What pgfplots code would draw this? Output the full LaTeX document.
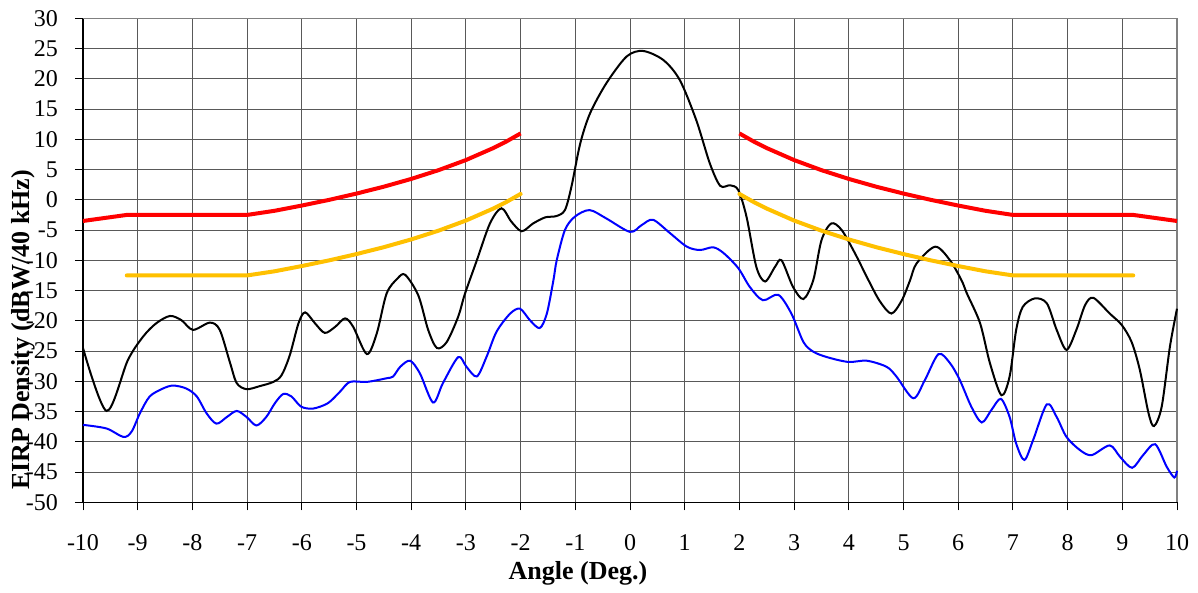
\documentclass[border=0pt]{standalone}
\usepackage{fontspec}
\setmainfont{Liberation Serif}
\usepackage{pgfplots}
\pgfplotsset{compat=1.18}
\definecolor{excelgold}{HTML}{FFC000}
\begin{document}
\begin{tikzpicture}
\path[use as bounding box] (-41.5pt,-45.35pt) rectangle (557.5pt,251.15pt);
\begin{axis}[
  at={(0,0)}, anchor=south west,
  scale only axis, width=547pt, height=242pt,
  xmin=-10, xmax=10, ymin=-50, ymax=30,
  xtick={-10,-9,...,10}, ytick={-50,-45,...,30},
  grid=major, major grid style={black!65, line width=0.5pt},
  axis x line*=bottom, axis y line*=left,
  axis line style={black, line width=0.6pt, -},
  tick align=outside, major tick length=4pt,
  tick style={black, line width=0.5pt},
  /pgf/number format/assume math mode=true,
  ticklabel style={font=\fontsize{12}{12}\selectfont},
  xticklabel style={anchor=base, yshift=-20pt},
  yticklabel style={anchor=east, xshift=-5pt},
  xlabel={\textbf{Angle (Deg.)}},
  ylabel={\textbf{EIRP Density (dBW/40 kHz)}},
  label style={font=\fontsize{13}{13}\selectfont},
  xlabel style={at={(axis description cs:0.4525,-0.1605)}, anchor=base},
  ylabel style={at={(axis description cs:-0.0545,0.356)}, anchor=center},
  clip=false,
]
\draw[gray, line width=0.75pt] (rel axis cs:0,1) -- (rel axis cs:1,1) -- (rel axis cs:1,0);
% measured pattern
\addplot[black, line width=1pt, smooth, tension=0.5] coordinates {
(-10,-24.5) (-9.57,-34.9) (-9.18,-26.5) (-8.90,-22.6) (-8.66,-20.4)
(-8.41,-19.2) (-8.20,-19.9) (-7.99,-21.5) (-7.68,-20.3) (-7.50,-21.5) (-7.31,-27.0)
(-7.19,-30.3) (-7.01,-31.3) (-6.77,-30.8) (-6.52,-30.1) (-6.37,-29.0) (-6.22,-25.7)
(-6.06,-20.4) (-5.94,-18.6) (-5.76,-20.4) (-5.58,-22.0) (-5.39,-21.0) (-5.21,-19.6)
(-5.06,-21.0) (-4.81,-25.5) (-4.63,-22.1) (-4.45,-15.5) (-4.25,-13.0) (-4.11,-12.4)
(-3.87,-15.8) (-3.69,-21.5) (-3.53,-24.5) (-3.35,-23.5) (-3.14,-19.3)
(-3.02,-15.6) (-2.80,-10.0) (-2.56,-3.9) (-2.35,-1.4) (-2.17,-3.6) (-1.98,-5.2)
(-1.77,-3.9) (-1.55,-2.9) (-1.35,-2.7) (-1.19,-1.7) (-1.07,2.2) (-0.91,9.3)
(-0.73,14.3) (-0.43,19.3) (-0.06,23.7) (0.24,24.6) (0.61,23.1) (0.91,19.8)
(1.21,13.2) (1.46,6.0) (1.65,2.3) (1.83,2.4) (1.98,1.6) (2.13,-2.8) (2.31,-11.1)
(2.47,-13.5) (2.65,-11.1) (2.77,-10.0) (2.98,-14.4) (3.17,-16.4) (3.35,-13.3)
(3.50,-6.7) (3.68,-3.9) (3.87,-5.0) (4.11,-8.8) (4.36,-13.3) (4.57,-16.8)
(4.78,-18.8) (4.97,-16.6) (5.12,-13.3) (5.24,-10.5) (5.58,-7.75) (5.85,-10.0)
(6.06,-13.3) (6.16,-15.5) (6.40,-20.4) (6.58,-27.0) (6.79,-32.3) (6.94,-29.2)
(7.06,-21.5) (7.18,-17.7) (7.40,-16.3) (7.62,-17.1) (7.80,-21.5) (7.98,-24.8)
(8.16,-21.5) (8.32,-17.4) (8.47,-16.2) (8.77,-18.8) (8.99,-20.7) (9.17,-23.5)
(9.32,-28.1) (9.48,-35.3) (9.58,-37.4) (9.72,-34.2) (9.87,-24.3) (10.0,-18.0)
};
\addplot[blue, line width=1pt, smooth, tension=0.5] coordinates {
(-10,-37.2) (-9.57,-37.8) (-9.26,-39.2) (-9.11,-38.3) (-8.96,-35.3) (-8.78,-32.5)
(-8.54,-31.2) (-8.35,-30.7) (-8.11,-31.2) (-7.92,-32.5) (-7.74,-35.3) (-7.56,-37.0)
(-7.37,-35.9) (-7.19,-34.9) (-7.01,-35.9) (-6.83,-37.3) (-6.65,-35.9) (-6.49,-33.6)
(-6.34,-32.1) (-6.19,-32.5) (-6.01,-34.2) (-5.79,-34.5) (-5.52,-33.6) (-5.30,-31.7)
(-5.12,-30.1) (-4.81,-30.1) (-4.45,-29.5) (-4.33,-29.2) (-4.20,-27.6) (-4.02,-26.6)
(-3.84,-28.7) (-3.60,-33.5) (-3.42,-30.3) (-3.14,-26.0) (-2.99,-27.6) (-2.80,-29.2)
(-2.62,-25.9) (-2.44,-21.8) (-2.19,-18.8) (-2.01,-18.0) (-1.83,-19.9) (-1.65,-21.2)
(-1.52,-18.8) (-1.40,-13.3) (-1.34,-10.0) (-1.19,-5.0) (-1.01,-2.8) (-0.74,-1.7)
(-0.43,-3.1) (0.0,-5.3) (0.21,-4.2) (0.42,-3.3) (0.73,-5.5) (1.04,-7.75)
(1.28,-8.3) (1.52,-7.85) (1.71,-8.8) (1.98,-11.3) (2.19,-14.4) (2.43,-16.6)
(2.71,-15.7) (2.95,-18.8) (3.17,-23.5) (3.35,-25.1) (3.60,-26.0) (3.99,-26.8)
(4.33,-26.6) (4.69,-27.6) (4.87,-29.2) (5.18,-32.8) (5.39,-29.8) (5.64,-25.5)
(5.85,-27.0) (6.03,-29.8) (6.24,-34.2) (6.43,-36.8) (6.61,-34.7) (6.78,-32.9)
(6.94,-35.9) (7.06,-40.3) (7.21,-43.0) (7.37,-39.7) (7.62,-33.8) (7.80,-35.9)
(7.98,-39.2) (8.23,-41.4) (8.44,-42.2) (8.77,-40.6) (8.96,-42.5) (9.18,-44.3)
(9.38,-42.2) (9.60,-40.4) (9.81,-44.1) (9.95,-45.9) (10.0,-44.8)
};
% masks
\addplot[red, line width=2pt] coordinates {
(-10,-3.5) (-9.2,-2.5) (-7,-2.5) (-6.5,-1.82) (-6,-0.95) (-5.5,-0.01) (-5,1.03)
(-4.5,2.17) (-4,3.45) (-3.5,4.90) (-3,6.57) (-2.5,8.55) (-2.25,9.69) (-2,10.97)
};
\addplot[red, line width=2pt] coordinates {
(2,10.97) (2.25,9.69) (2.5,8.55) (3,6.57) (3.5,4.90) (4,3.45) (4.5,2.17) (5,1.03)
(5.5,-0.01) (6,-0.95) (6.5,-1.82) (7,-2.5) (9.2,-2.5) (10,-3.5)
};
\addplot[excelgold, line width=2pt, line cap=round] coordinates {
(-9.2,-12.5) (-7,-12.5) (-6.5,-11.82) (-6,-10.95) (-5.5,-10.01) (-5,-8.97)
(-4.5,-7.83) (-4,-6.55) (-3.5,-5.10) (-3,-3.43) (-2.5,-1.45) (-2.25,-0.31) (-2,0.97)
};
\addplot[excelgold, line width=2pt, line cap=round] coordinates {
(2,0.97) (2.25,-0.31) (2.5,-1.45) (3,-3.43) (3.5,-5.10) (4,-6.55) (4.5,-7.83)
(5,-8.97) (5.5,-10.01) (6,-10.95) (6.5,-11.82) (7,-12.5) (9.2,-12.5)
};
\end{axis}
\end{tikzpicture}
\end{document}
